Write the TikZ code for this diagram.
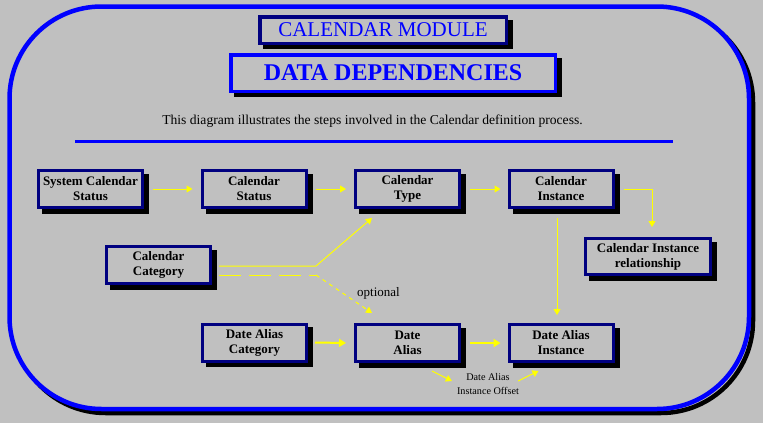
\documentclass[tikz,border=0pt]{standalone}
\usepackage{fontspec}
\setmainfont{Liberation Serif}
\usetikzlibrary{arrows.meta,shadows}
\definecolor{bg}{HTML}{C0C0C0}
\definecolor{navy}{HTML}{000080}
\definecolor{pblue}{HTML}{0000FF}
\definecolor{yel}{HTML}{FFFF00}
\begin{document}
\begin{tikzpicture}[x=1pt,y=-1pt,
  shd/.style={drop shadow={shadow xshift=5pt,shadow yshift=-4.5pt,opacity=1,fill=black,draw=black,line width=3pt}},
  ent/.style={draw=navy,line width=3pt,fill=bg,minimum width=104pt,minimum height=37pt,inner sep=0pt,align=center,font=\bfseries\fontsize{13}{15}\selectfont,shd},
  arr/.style={draw=yel,line width=1pt,-{Triangle[length=6pt,width=7pt]}},
  arrb/.style={draw=yel,line width=2pt,-{Triangle[length=7pt,width=8pt]}},
  lbl/.style={inner sep=0pt,align=center}]
\useasboundingbox (0,0) rectangle (763,423);
\fill[bg] (0,0) rectangle (763,423);
% outer frame
\draw[black,line width=4.5pt,rounded corners=92pt] (13.5,10.5) rectangle (753,413);
\draw[pblue,line width=4.5pt,fill=bg,rounded corners=92pt] (9.5,6.5) rectangle (749,409);
% titles
\node[draw=navy,line width=3.5pt,fill=bg,minimum width=246.5pt,minimum height=26.5pt,inner sep=0pt,text=pblue,font=\fontsize{21}{24}\selectfont,shd] (t1) at (383,30) {CALENDAR MODULE};
\node[draw=pblue,line width=3.5pt,fill=bg,minimum width=324.5pt,minimum height=36.5pt,inner sep=0pt,text=pblue,font=\bfseries\fontsize{24}{28}\selectfont,shd] (t2) at (393,73) {DATA DEPENDENCIES};
\node[lbl,font=\fontsize{13.6}{16}\selectfont] (sub) at (372.5,121) {This diagram illustrates the steps involved in the Calendar definition process.};
\draw[pblue,line width=3pt] (75,141) -- (673,141);
% entities
\node[ent] (scs) at (90.5,189) {System Calendar\\Status};
\node[ent] (cs) at (254,189) {Calendar\\Status};
\node[ent] (ct) at (407.5,189) {Calendar\\Type};
\node[ent] (ci) at (561,189) {Calendar\\Instance};
\node[ent,minimum width=125pt,minimum height=36pt] (cir) at (648,256.5) {Calendar Instance\\relationship};
\node[ent] (cc) at (158.5,265) {Calendar\\Category};
\node[ent] (dac) at (254.5,342.5) {Date Alias\\Category};
\node[ent] (da) at (407.5,343) {Date\\Alias};
\node[ent] (dai) at (561,343) {Date Alias\\Instance};
\node[lbl,font=\fontsize{10.2}{14}\selectfont] (off) at (488,384) {Date Alias\\Instance Offset};
\node[lbl,font=\fontsize{13}{15}\selectfont] (opt) at (378.5,293) {optional};
% connectors
\draw[arr] ([xshift=9pt]scs.east) -- ([xshift=-8pt]cs.west);
\draw[arr] ([xshift=8pt]cs.east) -- ([xshift=-8pt]ct.west);
\draw[arr] ([xshift=9pt]ct.east) -- ([xshift=-7pt]ci.west);
\draw[arr] ([xshift=9pt]ci.east) -| ([xshift=4pt,yshift=10pt]cir.north);
\draw[arr] ([xshift=-4pt,yshift=-9pt]ci.south) -- ([xshift=-4pt,yshift=8pt]dai.north);
\draw[arr] ([xshift=7pt,yshift=-1pt]cc.east) -- ++(97,0) coordinate (b1) -- ([xshift=-35.5pt,yshift=-9pt]ct.south);
\draw[yel,line width=1pt,dash pattern=on 22pt off 8pt] ([xshift=7pt,yshift=-10pt]cc.east) -- ++(97,0) coordinate (b2);
\draw[arr,dash pattern=on 4pt off 4pt] (b2) -- ([xshift=-35.5pt,yshift=10pt]da.north);
\draw[arrb] ([xshift=7pt]dac.east) -- ([xshift=-8pt]da.west);
\draw[arrb] ([xshift=9pt]da.east) -- ([xshift=-7pt]dai.west);
\draw[arr] ([xshift=-29pt,yshift=-8pt]da.south east) -- ([xshift=-5pt,yshift=3pt]off.west);
\draw[arr] ([xshift=-1pt,yshift=3pt]off.east) -- ([xshift=31pt,yshift=-8pt]dai.south west);
\end{tikzpicture}
\end{document}
